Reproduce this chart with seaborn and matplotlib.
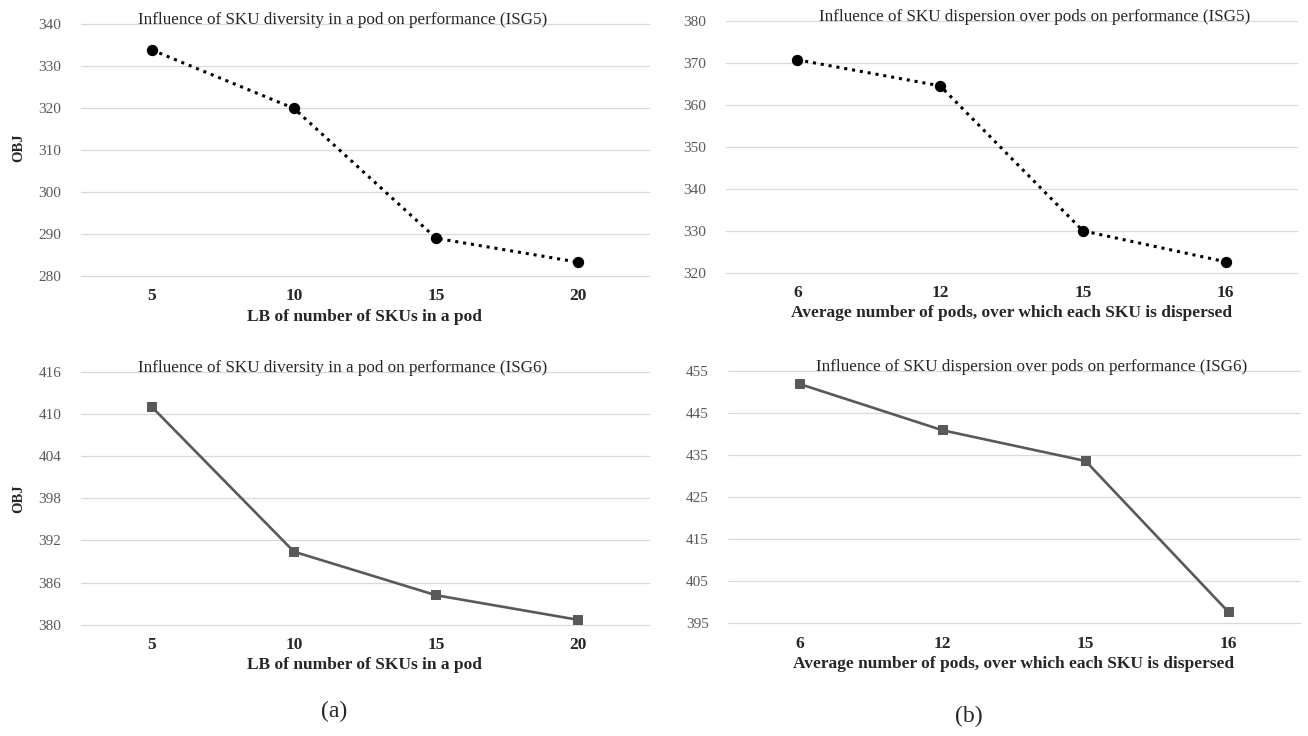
import matplotlib
matplotlib.use("Agg")
import matplotlib.pyplot as plt
import seaborn as sns

# (a) SKU diversity in a pod
lb_skus = ["5", "10", "15", "20"]
obj_div_isg5 = [333.8, 319.9, 289.0, 283.3]
obj_div_isg6 = [411.0, 390.4, 384.2, 380.7]

# (b) SKU dispersion over pods
avg_pods = ["6", "12", "15", "16"]
obj_disp_isg5 = [370.8, 364.6, 330.0, 322.6]
obj_disp_isg6 = [451.8, 440.8, 433.5, 397.6]

yticks_div5 = [280, 290, 300, 310, 320, 330, 340]
yticks_div6 = [380, 386, 392, 398, 404, 410, 416]
yticks_disp5 = [320, 330, 340, 350, 360, 370, 380]
yticks_disp6 = [395, 405, 415, 425, 435, 445, 455]

sns.set_style("white")
plt.rcParams["font.family"] = ["Liberation Serif", "DejaVu Serif"]

fig = plt.figure(figsize=(13.08, 7.36), dpi=100)

# axes placed to follow the reference layout
ax_tl = fig.add_axes([0.0619, 0.625, 0.4343, 0.3424])
ax_tr = fig.add_axes([0.555, 0.6295, 0.4366, 0.3416])
ax_bl = fig.add_axes([0.0619, 0.1512, 0.4343, 0.3434])
ax_br = fig.add_axes([0.5566, 0.1535, 0.4373, 0.3431])

dotted = dict(color="black", markers="o", linestyles=(0, (1, 1.6)),
              linewidth=2.2, markersize=6.5)
solid = dict(color="#595959", markers="s", linestyles="-",
             linewidth=1.9, markersize=5.5)

panels = [
    (ax_tl, lb_skus, obj_div_isg5, yticks_div5, dotted,
     "Influence of SKU diversity in a pod on performance (ISG5)", 0.46,
     "LB of number of SKUs in a pod"),
    (ax_tr, avg_pods, obj_disp_isg5, yticks_disp5, dotted,
     "Influence of SKU dispersion over pods on performance (ISG5)", 0.54,
     "Average number of pods, over which each SKU is dispersed"),
    (ax_bl, lb_skus, obj_div_isg6, yticks_div6, solid,
     "Influence of SKU diversity in a pod on performance (ISG6)", 0.46,
     "LB of number of SKUs in a pod"),
    (ax_br, avg_pods, obj_disp_isg6, yticks_disp6, solid,
     "Influence of SKU dispersion over pods on performance (ISG6)", 0.53,
     "Average number of pods, over which each SKU is dispersed"),
]

for ax, cats, vals, yt, style, title, tx, xlab in panels:
    sns.pointplot(x=cats, y=vals, ax=ax, errorbar=None, **style)
    ax.set_xlim(-0.5, len(cats) - 0.5)
    ax.set_ylim(yt[0], yt[-1])
    ax.set_yticks(yt)
    ax.yaxis.grid(True, color="#d9d9d9", linewidth=0.9)
    ax.set_axisbelow(True)
    for gl in ax.get_ygridlines():
        gl.set_clip_on(False)
    for s in ax.spines.values():
        s.set_visible(False)
    ax.tick_params(axis="y", length=0, pad=14, labelsize=11, labelcolor="#595959")
    ax.tick_params(axis="x", length=0, pad=9, labelsize=12.5)
    for lbl in ax.get_xticklabels():
        lbl.set_fontweight("bold")
    ax.set_xlabel(xlab, fontsize=12.5, fontweight="bold", labelpad=3)
    ax.set_ylabel("")
    ax.text(tx, 1.015, title, transform=ax.transAxes, ha="center", va="center",
            fontsize=12.3)

fig.text(0.0145, 0.80, "OBJ", rotation=90, ha="center", va="center",
         fontsize=10.5, fontweight="bold")
fig.text(0.0145, 0.323, "OBJ", rotation=90, ha="center", va="center",
         fontsize=10.5, fontweight="bold")

fig.text(0.2554, 0.033, "(a)", ha="center", va="center", fontsize=17)
fig.text(0.7408, 0.026, "(b)", ha="center", va="center", fontsize=17)

fig.savefig("out.png", dpi=100)
